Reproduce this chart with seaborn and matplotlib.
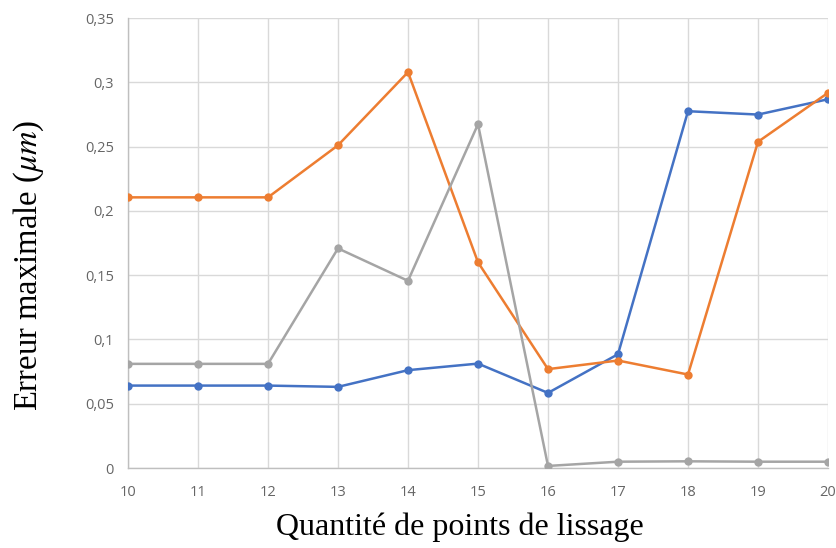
import numpy as np
import pandas as pd
import matplotlib
matplotlib.use("Agg")
import matplotlib.pyplot as plt
import seaborn as sns

x_points = [10, 11, 12, 13, 14, 15, 16, 17, 18, 19, 20]
serie_bleue = [0.0641, 0.0641, 0.0641, 0.0631, 0.0761, 0.0812, 0.0584, 0.0885, 0.2775, 0.2749, 0.2868]
serie_orange = [0.2105, 0.2105, 0.2105, 0.2510, 0.3079, 0.1600, 0.0769, 0.0836, 0.0727, 0.2537, 0.2918]
serie_grise = [0.0810, 0.0810, 0.0810, 0.1708, 0.1456, 0.2674, 0.0016, 0.0049, 0.0052, 0.0049, 0.0049]
series_names = ["Série 1", "Série 2", "Série 3"]
colors = ["#4472C4", "#ED7D31", "#A5A5A5"]
y_ticks = [0, 0.05, 0.1, 0.15, 0.2, 0.25, 0.3, 0.35]
y_tick_labels = ["0", "0,05", "0,1", "0,15", "0,2", "0,25", "0,3", "0,35"]

df = pd.DataFrame({
    "x": x_points * 3,
    "y": serie_bleue + serie_orange + serie_grise,
    "serie": [series_names[0]] * 11 + [series_names[1]] * 11 + [series_names[2]] * 11,
})

sns.set_theme(style="white")
plt.rcParams["mathtext.fontset"] = "stix"

fig = plt.figure(figsize=(8.37, 5.48), dpi=100)
ax = fig.add_axes([128 / 837, 1 - 468 / 548, 700 / 837, 450 / 548])

sns.lineplot(data=df, x="x", y="y", hue="serie", hue_order=series_names,
             palette=colors, marker="o", markersize=6, markeredgewidth=0,
             linewidth=1.8, legend=False, ax=ax, zorder=3)

ax.set_xlim(10, 20)
ax.set_ylim(0, 0.35)
ax.set_xticks(x_points)
ax.set_xticklabels([str(v) for v in x_points])
ax.set_yticks(y_ticks)
ax.set_yticklabels(y_tick_labels)
ax.grid(True, color="#D9D9D9", linewidth=1.0, zorder=0)
ax.set_axisbelow(True)
for s in ["top", "right"]:
    ax.spines[s].set_visible(False)
for s in ["left", "bottom"]:
    ax.spines[s].set_color("#BFBFBF")
    ax.spines[s].set_linewidth(1.0)
ax.tick_params(axis="both", length=0, labelsize=10.5, colors="#666666")
ax.tick_params(axis="x", pad=12)
ax.tick_params(axis="y", pad=10)
for lab in ax.get_xticklabels() + ax.get_yticklabels():
    lab.set_fontfamily("Open Sans")

ax.set_xlabel("Quantité de points de lissage", fontsize=23, family="Liberation Serif",
              color="black")
ax.set_ylabel(r"Erreur maximale ($\mu m$)", fontsize=23.5, family="Liberation Serif",
              color="black")
ax.xaxis.set_label_coords((460 - 128) / 700, (468 - 512) / 450)
ax.yaxis.set_label_coords((12 - 128) / 700, (468 - 265) / 450)
ax.yaxis.label.set_verticalalignment("top")
ax.xaxis.label.set_verticalalignment("top")

fig.savefig("out.png", dpi=100)
